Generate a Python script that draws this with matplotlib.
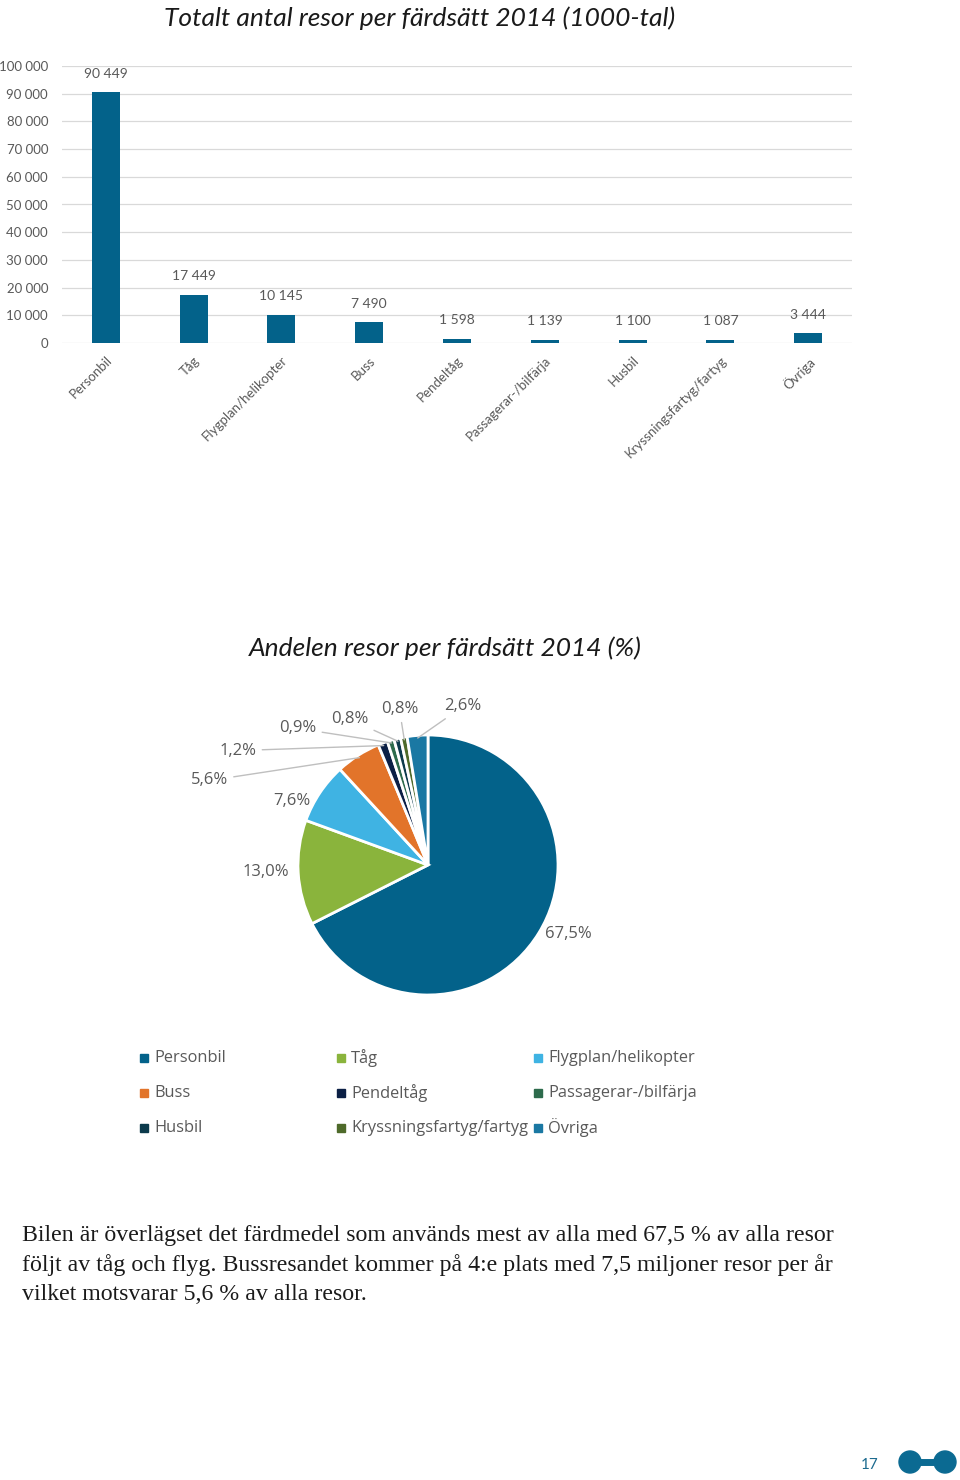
import matplotlib
matplotlib.use("Agg")
import matplotlib.pyplot as plt
import matplotlib.ticker as mticker
import numpy as np
from matplotlib.patches import Rectangle, Circle

# ---------------------------------------------------------------
# Data
# ---------------------------------------------------------------
categories = ["Personbil", "Tåg", "Flygplan/helikopter", "Buss", "Pendeltåg",
              "Passagerar-/bilfärja", "Husbil", "Kryssningsfartyg/fartyg", "Övriga"]
trips_1000 = [90449, 17449, 10145, 7490, 1598, 1139, 1100, 1087, 3444]
pie_labels = ["67,5%", "13,0%", "7,6%", "5,6%", "1,2%", "0,9%", "0,8%", "0,8%", "2,6%"]
y_ticks = list(range(0, 100001, 10000))

bar_title = "Totalt antal resor per färdsätt 2014 (1000-tal)"
pie_title = "Andelen resor per färdsätt 2014 (%)"
body_lines = [
    "Bilen är överlägset det färdmedel som används mest av alla med 67,5 % av alla resor",
    "följt av tåg och flyg. Bussresandet kommer på 4:e plats med 7,5 miljoner resor per år",
    "vilket motsvarar 5,6 % av alla resor.",
]

# ---------------------------------------------------------------
# Style
# ---------------------------------------------------------------
BAR_COLOR = "#03628a"
PIE_COLORS = ["#03628a", "#8ab43c", "#3fb3e3", "#e2742a", "#0b1f45",
              "#2d6b4c", "#0c3a4c", "#4e6a2a", "#1a78a3"]
GRAY = "#595959"
GRID = "#d9d9d9"
SANS = "Lato"
LEG_FONT = "Open Sans"

# label placement (pie data coords) and whether a leader line is drawn
label_pos = [(1.08, -0.53), (-1.25, -0.05), (-1.05, 0.49), (-1.68, 0.65),
             (-1.46, 0.88), (-1.0, 1.05), (-0.6, 1.12), (-0.22, 1.2), (0.27, 1.22)]
leader = [False, False, False, True, True, True, True, True, True]


def fmt_space(v, _=None):
    return f"{int(v):,}".replace(",", " ")


fig = plt.figure(figsize=(9.6, 14.8), dpi=100)

# ---------------------------------------------------------------
# Bar chart
# ---------------------------------------------------------------
W, H = 960, 1480
ax = fig.add_axes([62 / W, (H - 343) / H, 790 / W, 277 / H])
x = np.arange(len(categories))
bars = ax.bar(x, trips_1000, width=0.32, color=BAR_COLOR, zorder=3)
ax.set_ylim(0, 100000)
ax.set_xlim(-0.5, len(categories) - 0.5)
ax.set_yticks(y_ticks)
ax.yaxis.set_major_formatter(mticker.FuncFormatter(fmt_space))
ax.grid(True, axis="y", color=GRID, lw=0.9, zorder=0)
for s in ax.spines.values():
    s.set_visible(False)
ax.tick_params(axis="y", length=0, pad=10, labelsize=9.5, labelcolor=GRAY)
ax.tick_params(axis="x", length=0, pad=8)
for lab in ax.get_yticklabels():
    lab.set_fontfamily(SANS)
ax.set_xticks(x)
ax.set_xticklabels(categories, rotation=45, ha="right", va="top",
                   rotation_mode="anchor", fontsize=9.5, color=GRAY, family=SANS)
for b, v in zip(bars, trips_1000):
    ax.annotate(fmt_space(v), (b.get_x() + b.get_width() / 2, v),
                xytext=(0, 9), textcoords="offset points", ha="center", va="bottom",
                fontsize=10, color=GRAY, family=SANS)
fig.text(420 / W, 1 - 18 / H, bar_title, ha="center", va="center",
         fontsize=19, style="italic", family=SANS, color="#1a1a1a")

# ---------------------------------------------------------------
# Pie chart
# ---------------------------------------------------------------
cx, cy, r = 428, 865, 130
pax = fig.add_axes([(cx - 1.5 * r) / W, (H - cy - 1.5 * r) / H, 3 * r / W, 3 * r / H])
wedges, _ = pax.pie(trips_1000, colors=PIE_COLORS, startangle=90, counterclock=False,
                    wedgeprops=dict(edgecolor="white", linewidth=2))
pax.set_xlim(-1.5, 1.5)
pax.set_ylim(-1.5, 1.5)
pax.set_aspect("equal")
pax.axis("off")
for w, lab, pos, ld in zip(wedges, pie_labels, label_pos, leader):
    ang = np.deg2rad((w.theta1 + w.theta2) / 2)
    tip = (np.cos(ang) * 0.98, np.sin(ang) * 0.98)
    if ld:
        pax.annotate(lab, xy=tip, xytext=pos, ha="center", va="center",
                     fontsize=12, color=GRAY, family=LEG_FONT,
                     arrowprops=dict(arrowstyle="-", color="#bfbfbf", lw=1,
                                     shrinkA=2, shrinkB=0))
    else:
        pax.text(pos[0], pos[1], lab, ha="center", va="center",
                 fontsize=12, color=GRAY, family=LEG_FONT)
fig.text(445 / W, 1 - 648 / H, pie_title, ha="center", va="center",
         fontsize=19, style="italic", family=SANS, color="#1a1a1a")

# ---------------------------------------------------------------
# Page overlay: legend, body text, page number
# ---------------------------------------------------------------
pg = fig.add_axes([0, 0, 1, 1], zorder=-1)
pg.set_xlim(0, W)
pg.set_ylim(H, 0)
pg.axis("off")
for i, (cat, col) in enumerate(zip(categories, PIE_COLORS)):
    lx = 140 + 197 * (i % 3)
    ly = 1058 + 35 * (i // 3)
    pg.add_patch(Rectangle((lx, ly - 4), 8, 8, color=col))
    pg.text(lx + 14, ly, cat, ha="left", va="center", fontsize=11.8,
            color=GRAY, family=LEG_FONT)

for i, line in enumerate(body_lines):
    pg.text(22, 1235 + 30 * i, line, ha="left", va="center", fontsize=17.2,
            color="#1a1a1a", family="Liberation Serif")

pg.text(870, 1465, "17", ha="center", va="center", fontsize=11,
        color="#1d6b8f", family=SANS)
pg.plot([908, 945], [1462, 1462], color="#0b6a92", lw=5, solid_capstyle="butt")
pg.add_patch(Circle((910, 1462), 11, color="#0b6a92"))
pg.add_patch(Circle((945, 1462), 11, color="#0b6a92"))

fig.savefig("out.png", dpi=100, facecolor="white")
